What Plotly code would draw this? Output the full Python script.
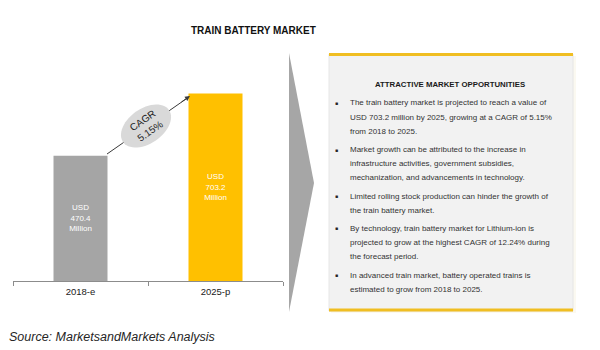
import numpy as np
import plotly.graph_objects as go

# ---- data ----
categories = ["2018-e", "2025-p"]
values = [470.4, 703.2]
bar_labels = ["USD<br>470.4<br>Million", "USD<br>703.2<br>Million"]
bar_colors = ["#a5a5a5", "#ffc000"]
cagr_text = "CAGR<br>5.15%"
title_text = "TRAIN BATTERY MARKET"
panel_title = "ATTRACTIVE MARKET OPPORTUNITIES"
bullets = [
    ["The train battery market is projected to reach a value of",
     "USD 703.2 million by 2025, growing at a CAGR of 5.15%",
     "from 2018 to 2025."],
    ["Market growth can be attributed to the increase in",
     "infrastructure activities, government subsidies,",
     "mechanization, and advancements in technology."],
    ["Limited rolling stock production can hinder the growth of",
     "the train battery market."],
    ["By technology, train battery market for Lithium-ion is",
     "projected to grow at the highest CAGR of 12.24% during",
     "the forecast period."],
    ["In advanced train market, battery operated trains is",
     "estimated to grow from 2018 to 2025."],
]
source_text = "Source: MarketsandMarkets Analysis"

W, H = 600, 350
def xp(px):
    return px / W
def yp(py):
    return 1 - py / H

SANS = "Liberation Sans, Arial, sans-serif"

fig = go.Figure()
fig.add_trace(go.Bar(
    x=categories, y=values, width=0.4,
    marker=dict(color=bar_colors, line=dict(width=0)),
    text=bar_labels, textposition="inside", insidetextanchor="middle",
    textfont=dict(color="white", size=8, family=SANS),
    hoverinfo="skip",
))

base_px, top_px = 281, 55
ymax = (base_px - top_px) / 0.2665

fig.update_layout(
    width=W, height=H, margin=dict(l=0, r=0, t=0, b=0),
    paper_bgcolor="white", plot_bgcolor="white", showlegend=False,
    bargap=0.6,
    xaxis=dict(domain=[xp(13), xp(283)], range=[-0.5, 1.5], showline=True,
               linecolor="#8c8c8c", linewidth=1, ticks="outside",
               tickson="boundaries", ticklen=4, tickcolor="#8c8c8c",
               showgrid=False, ticklabelstandoff=2,
               tickfont=dict(size=9.5, color="#1a1a1a", family=SANS)),
    yaxis=dict(domain=[yp(base_px), yp(top_px)], range=[0, ymax], visible=False),
)

shapes = []
# arrow line (below ellipse)
shapes.append(dict(type="line", xref="paper", yref="paper",
                   x0=xp(107), y0=yp(154), x1=xp(186), y1=yp(99),
                   line=dict(color="#3a3a3a", width=1)))
# ellipse
cx, cy, a, b, th = 146, 126, 28, 17.5, np.deg2rad(35)
t = np.linspace(0, 2 * np.pi, 60)
ex = cx + a * np.cos(t) * np.cos(th) + b * np.sin(t) * np.sin(th)
ey = cy - a * np.cos(t) * np.sin(th) + b * np.sin(t) * np.cos(th)
path = "M " + " L ".join(f"{xp(u):.5f},{yp(v):.5f}" for u, v in zip(ex, ey)) + " Z"
shapes.append(dict(type="path", xref="paper", yref="paper", path=path,
                   fillcolor="#d9d9d9", line=dict(width=0)))
# chevron triangle
shapes.append(dict(type="path", xref="paper", yref="paper",
                   path=f"M {xp(289)},{yp(53)} L {xp(314)},{yp(183)} L {xp(289)},{yp(312)} Z",
                   fillcolor="#a6a6a6", line=dict(width=0)))
# panel shadow + panel
shapes.append(dict(type="rect", xref="paper", yref="paper",
                   x0=xp(331), x1=xp(576), y0=yp(313), y1=yp(56),
                   fillcolor="#fbf9f1", line=dict(width=0)))
shapes.append(dict(type="rect", xref="paper", yref="paper",
                   x0=xp(329), x1=xp(573), y0=yp(311), y1=yp(54),
                   fillcolor="#f2f2f2", line=dict(color="#e6e6e6", width=1)))
shapes.append(dict(type="line", xref="paper", yref="paper",
                   x0=xp(329), x1=xp(573), y0=yp(54.5), y1=yp(54.5),
                   line=dict(color="#f0be22", width=3)))
shapes.append(dict(type="line", xref="paper", yref="paper",
                   x0=xp(329), x1=xp(573), y0=yp(310), y1=yp(310),
                   line=dict(color="#f0be22", width=3)))
fig.update_layout(shapes=shapes)

ann = []
# arrow head
ann.append(dict(xref="paper", yref="paper", x=xp(190), y=yp(96), text="",
                showarrow=True, arrowhead=2, arrowsize=1, arrowwidth=1,
                arrowcolor="#3a3a3a", ax=-10, ay=7))
ann.append(dict(xref="paper", yref="paper", x=xp(146), y=yp(126), text=cagr_text,
                showarrow=False, textangle=-35, font=dict(size=10, color="#222222", family=SANS),
                xanchor="center", yanchor="middle"))
ann.append(dict(xref="paper", yref="paper", x=xp(253), y=yp(30), text=f"<b>{title_text}</b>",
                showarrow=False, font=dict(size=10, color="#111111", family=SANS),
                xanchor="center", yanchor="middle"))
ann.append(dict(xref="paper", yref="paper", x=xp(450), y=yp(84), text=f"<b>{panel_title}</b>",
                showarrow=False, font=dict(size=7.8, color="#1a1a1a", family=SANS),
                xanchor="center", yanchor="middle"))
ann.append(dict(xref="paper", yref="paper", x=xp(7), y=yp(337), text=f"<i>{source_text}</i>",
                showarrow=False, font=dict(size=12.5, color="#262626", family=SANS),
                xanchor="left", yanchor="middle"))

line_y = 103
for group in bullets:
    ann.append(dict(xref="paper", yref="paper", x=xp(336), y=yp(line_y), text="■",
                    showarrow=False, font=dict(size=5, color="#262626", family=SANS),
                    xanchor="center", yanchor="middle"))
    for ln in group:
        ann.append(dict(xref="paper", yref="paper", x=xp(348), y=yp(line_y), text=ln,
                        showarrow=False, font=dict(size=8, color="#333333", family=SANS),
                        xanchor="left", yanchor="middle"))
        line_y += 14
    line_y += 4.5
fig.update_layout(annotations=ann)

fig.write_html("out.html")
